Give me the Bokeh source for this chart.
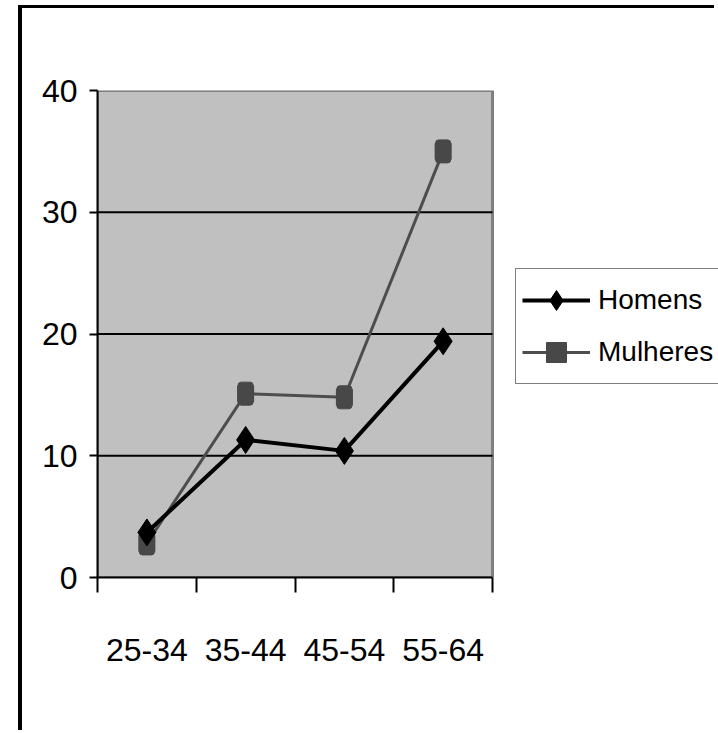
from bokeh.plotting import figure
from bokeh.models import Range1d, FixedTicker, Legend, LegendItem
from bokeh.embed import file_html
from bokeh.resources import INLINE

categories = ["25-34", "35-44", "45-54", "55-64"]
homens = [3.7, 11.3, 10.4, 19.4]
mulheres = [2.8, 15.1, 14.8, 35.0]
y_ticks = [0, 10, 20, 30, 40]

FONT = "Liberation Sans"

# layout constants (pixels)
CANVAS_W, CANVAS_H = 696, 725
LEFT, TOP, BOTTOM = 75, 82, 156
PLOT_W = 395                      # width of the grey plot area
FRAME_W = CANVAS_W - LEFT         # frame runs to the right edge (room for legend)

n = len(categories)
xs = [i + 0.5 for i in range(n)]
y_min, y_max = y_ticks[0], y_ticks[-1]

p = figure(width=CANVAS_W, height=CANVAS_H, output_backend="svg", toolbar_location=None,
           x_range=Range1d(0, n * FRAME_W / PLOT_W), y_range=Range1d(y_min, y_max),
           min_border_left=LEFT, min_border_right=0, min_border_top=TOP, min_border_bottom=BOTTOM)
p.styles = {"margin-left": "18px", "margin-top": "5px",
            "border-left": "4px solid black", "border-top": "3px solid black"}

p.background_fill_color = "white"
p.border_fill_color = "white"
p.outline_line_color = None
p.xgrid.visible = False
p.ygrid.visible = False

# grey plot area
p.quad(left=[0], right=[n], bottom=[y_min], top=[y_max],
       fill_color="#c0c0c0", line_color="#808080", line_width=3)
# horizontal gridlines
grid_y = y_ticks[1:-1]
p.segment(x0=[0] * len(grid_y), x1=[n] * len(grid_y), y0=grid_y, y1=grid_y,
          line_color="black", line_width=2)

# y axis
p.yaxis.ticker = FixedTicker(ticks=y_ticks)
p.yaxis.axis_line_color = "black"
p.yaxis.axis_line_width = 2
p.yaxis.major_tick_line_color = "black"
p.yaxis.major_tick_line_width = 2
p.yaxis.major_tick_out = 8
p.yaxis.major_tick_in = 0
p.yaxis.minor_tick_line_color = None
p.yaxis.major_label_text_font = FONT
p.yaxis.major_label_text_font_size = "32px"
p.yaxis.major_label_text_color = "black"
p.yaxis.major_label_standoff = 12

# x axis: labels at centres, ticks at category boundaries
p.xaxis.bounds = (0, n)
p.xaxis.ticker = FixedTicker(ticks=xs, minor_ticks=list(range(n + 1)))
p.xaxis.major_label_overrides = {x: c for x, c in zip(xs, categories)}
p.xaxis.axis_line_color = "black"
p.xaxis.axis_line_width = 2
p.xaxis.major_tick_out = 0
p.xaxis.major_tick_in = 0
p.xaxis.minor_tick_line_color = "black"
p.xaxis.minor_tick_line_width = 2
p.xaxis.minor_tick_out = 15
p.xaxis.minor_tick_in = 0
p.xaxis.major_label_text_font = FONT
p.xaxis.major_label_text_font_size = "32px"
p.xaxis.major_label_text_color = "black"
p.xaxis.major_label_standoff = 46

# series
l_m = p.line(xs, mulheres, line_color="#4d4d4d", line_width=3)
s_m = p.scatter(xs, mulheres, marker="square", size=16, fill_color="#484848", line_color="#484848")
p.rect(xs, mulheres, width=15, height=23, width_units="screen", height_units="screen",
       fill_color="#484848", line_color="#484848", border_radius=3)
l_h = p.line(xs, homens, line_color="black", line_width=4)
s_h = p.scatter(xs, homens, marker="diamond", size=27, fill_color="black", line_color="black")

legend = Legend(items=[LegendItem(label="Homens", renderers=[l_h, s_h]),
                       LegendItem(label="Mulheres", renderers=[l_m, s_m])],
                location=(418, 193), margin=0, padding=6, spacing=2,
                glyph_width=68, glyph_height=50, label_height=50, label_standoff=8,
                label_text_font=FONT, label_text_font_size="28px", label_text_color="black",
                border_line_color="black", border_line_width=1,
                background_fill_color="white", background_fill_alpha=1.0)
p.add_layout(legend, "center")

open("out.html", "w").write(file_html(p, INLINE))
